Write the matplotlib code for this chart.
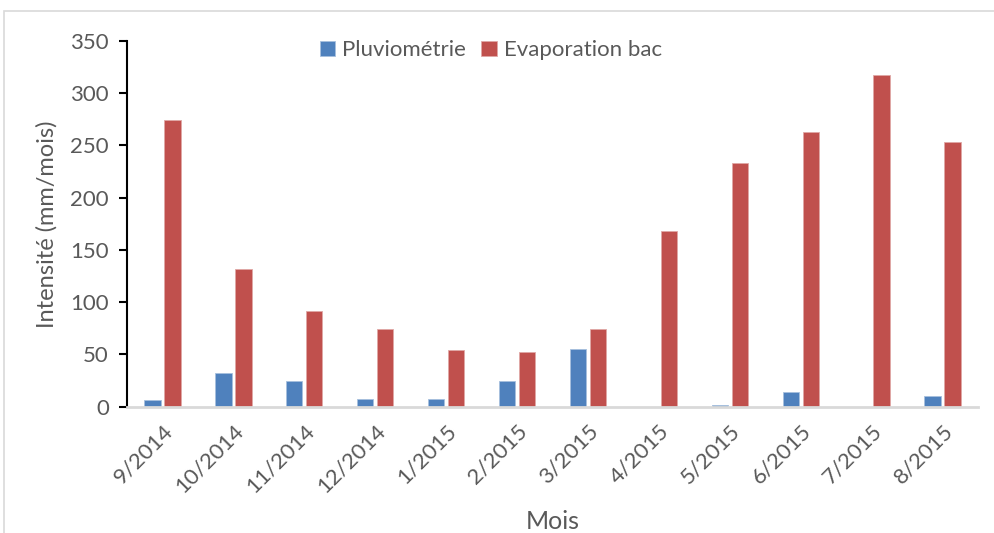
import matplotlib
matplotlib.use("Agg")
import matplotlib.pyplot as plt
import numpy as np
from matplotlib.patches import Rectangle

months = ['9/2014', '10/2014', '11/2014', '12/2014', '1/2015', '2/2015',
          '3/2015', '4/2015', '5/2015', '6/2015', '7/2015', '8/2015']
pluviometrie = [6.2, 32.3, 24.4, 6.9, 7.5, 24.7, 55.2, 0.0, 1.9, 13.8, 0.0, 10.7]
evaporation = [274.4, 132.1, 92.0, 74.6, 54.5, 52.6, 74.6, 168.0, 233.5, 262.9, 317.2, 253.0]
y_ticks = [0, 50, 100, 150, 200, 250, 300, 350]

BLUE = '#4F81BD'
RED = '#C0504D'
TEXT = '#595959'

plt.rcParams['font.family'] = ['Lato', 'DejaVu Sans']

fig = plt.figure(figsize=(9.94, 5.33), dpi=100)
ax = fig.add_axes([127 / 994, 1 - 406.7 / 533, (978 - 127) / 994, (406.7 - 41) / 533])

# light frame around the chart area
fig.patches.append(Rectangle((4 / 994, -0.1), 1.2, 1 - 11 / 533 + 0.1,
                             transform=fig.transFigure, fill=False,
                             edgecolor='#d9d9d9', linewidth=1.2))

x = np.arange(len(months))
w = 0.231
off = 0.141
ax.bar(x - off, pluviometrie, width=w, color=BLUE, edgecolor='#a7c0de',
       linewidth=0.6, label='Pluviométrie')
ax.bar(x + off, evaporation, width=w, color=RED, edgecolor='#e0a8a6',
       linewidth=0.6, label='Evaporation bac')

ax.set_xlim(-0.5, len(months) - 0.5)
ax.set_ylim(0, 350)
ax.set_yticks(y_ticks)
ax.set_xticks(x)
ax.set_xticklabels(months, rotation=45, ha='right', rotation_mode='anchor')

for s in ('top', 'right'):
    ax.spines[s].set_visible(False)
ax.spines['left'].set_color('black')
ax.spines['left'].set_linewidth(1.5)
ax.spines['bottom'].set_color('#d9d9d9')
ax.spines['bottom'].set_linewidth(2)

ax.tick_params(axis='y', direction='out', length=6, width=1.5, color='black',
               labelsize=16, labelcolor=TEXT, pad=7)
ax.tick_params(axis='x', length=0, labelsize=16, labelcolor=TEXT, pad=10)

ax.set_ylabel('Intensité (mm/mois)', fontsize=17, color=TEXT, labelpad=9)
ax.set_xlabel('Mois', fontsize=18, color=TEXT, labelpad=10)

leg = ax.legend(loc='center left', bbox_to_anchor=(0.216, 0.975), ncol=2,
                frameon=False, fontsize=16, handlelength=0.7, handleheight=0.7,
                handletextpad=0.3, columnspacing=0.7, borderaxespad=0)
for t in leg.get_texts():
    t.set_color(TEXT)

fig.savefig('out.png', dpi=100)
